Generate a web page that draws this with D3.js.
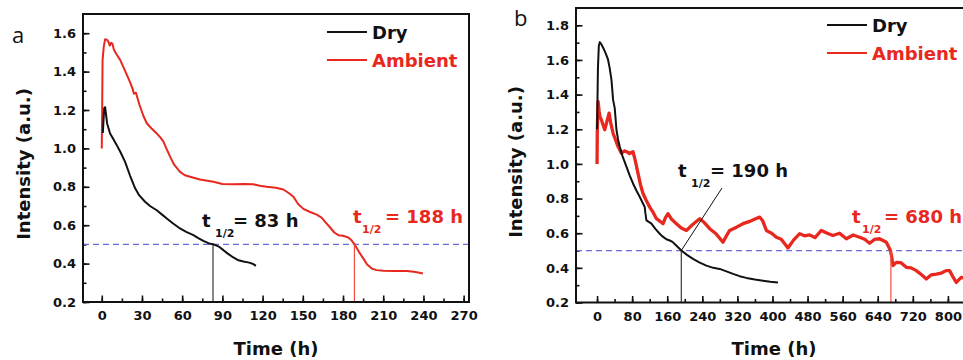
<!DOCTYPE html>
<html>
<head>
<meta charset="utf-8">
<script src="https://cdn.jsdelivr.net/npm/d3@7"></script>
<style>
  body { margin: 0; background: #fff; }
  svg text { font-family: "DejaVu Sans", sans-serif; font-weight: bold; fill: #111; }
</style>
</head>
<body>
<div id="chart"></div>
<script>
// ---- data (time h, normalised intensity) ----
let dryA = [
  [0.8, 1.08], [1.8, 1.21], [2.5, 1.215], [4, 1.13], [6.2, 1.078], [8.5, 1.05],
  [11.2, 1.017], [14, 0.98], [17.4, 0.93], [21, 0.86], [24.9, 0.792], [28, 0.755],
  [32.3, 0.722], [36, 0.70], [41, 0.678], [45, 0.655], [48.5, 0.635], [53, 0.61],
  [58.4, 0.583], [63, 0.565], [68.4, 0.548], [72, 0.533], [75.8, 0.518], [80, 0.505],
  [83.8, 0.499], [87, 0.49], [90.8, 0.47], [94, 0.452], [98.2, 0.432], [102, 0.417],
  [105.7, 0.411], [110, 0.405], [113, 0.398], [115, 0.388]
]

let ambientA = [
  [0, 1.0], [0.3, 1.2], [0.6, 1.46], [1.5, 1.53], [2.5, 1.569], [4, 1.565], [5, 1.555],
  [6, 1.535], [7, 1.55], [8, 1.545], [9, 1.515], [11, 1.49], [13.7, 1.461], [17, 1.41],
  [21.1, 1.345], [23, 1.31], [24, 1.285], [25.5, 1.29], [28, 1.23], [31, 1.17],
  [33.6, 1.131], [37, 1.105], [41, 1.078], [44, 1.055], [46, 1.035], [48.5, 0.995],
  [51, 0.957], [54, 0.915], [58.4, 0.878], [62, 0.86], [65.9, 0.852], [73.3, 0.838],
  [83.3, 0.826], [90, 0.815], [98.2, 0.813], [106, 0.815], [113, 0.813], [118, 0.806],
  [123, 0.80], [130, 0.795], [135.5, 0.786], [140, 0.765], [143, 0.748], [146.5, 0.71],
  [150.4, 0.685], [155, 0.67], [160.4, 0.655], [164, 0.64], [167, 0.615], [170.4, 0.588],
  [173.5, 0.562], [176.6, 0.548], [180, 0.545], [184, 0.536], [186.5, 0.52], [189, 0.496],
  [192, 0.46], [195.2, 0.426], [198, 0.395], [201.5, 0.374], [205, 0.366], [210, 0.363],
  [218, 0.362], [227.6, 0.362], [233, 0.357], [237, 0.352], [239.6, 0.348]
]

let dryB = [
  [0, 1.2], [2, 1.55], [4, 1.68], [6.2, 1.703], [10, 1.69], [13, 1.675], [17.5, 1.651],
  [21, 1.63], [25, 1.603], [29, 1.55], [32.8, 1.487], [35, 1.42], [36.5, 1.371],
  [40.3, 1.322], [42, 1.27], [44.2, 1.197], [48, 1.14], [51.7, 1.10], [58, 1.045],
  [67, 0.984], [75, 0.93], [82, 0.887], [90, 0.845], [97.3, 0.81], [103, 0.78],
  [108.7, 0.751], [110, 0.72], [112.6, 0.674], [118, 0.665], [124, 0.655], [133, 0.625],
  [142.9, 0.597], [150, 0.58], [158, 0.565], [165.7, 0.558], [172, 0.55], [180, 0.53],
  [192.3, 0.50], [205, 0.475], [218.8, 0.452], [233, 0.432], [249.3, 0.413], [265, 0.40],
  [279.6, 0.394], [295, 0.38], [310, 0.365], [325, 0.352], [340.5, 0.342], [360, 0.333],
  [378.4, 0.326], [395, 0.32], [412.5, 0.316]
]

let ambientB = [
  [0, 1.0], [0.5, 1.18], [2.3, 1.361], [5, 1.30], [7, 1.27], [10, 1.254], [13, 1.23],
  [17.5, 1.197], [22, 1.24], [27.4, 1.293], [31, 1.24], [36.5, 1.177], [42, 1.14],
  [47.9, 1.10], [55.5, 1.061], [62, 1.075], [67, 1.071], [74, 1.06], [82, 1.071],
  [87, 1.02], [93.4, 0.945], [99, 0.88], [104.8, 0.829], [112, 0.79], [120, 0.751],
  [128, 0.72], [135.4, 0.684], [143, 0.67], [150.5, 0.655], [156, 0.69], [161.8, 0.713],
  [170, 0.68], [180.9, 0.655], [192, 0.63], [203.7, 0.616], [218, 0.65], [234, 0.684],
  [245, 0.66], [256.8, 0.626], [270, 0.60], [280, 0.57], [287.1, 0.548], [295, 0.585],
  [302.4, 0.616], [318, 0.635], [332.7, 0.655], [350, 0.67], [370.8, 0.693], [378, 0.67],
  [386, 0.616], [398, 0.60], [408.8, 0.577], [420, 0.565], [435.3, 0.515], [448, 0.56],
  [462, 0.597], [473, 0.585], [484.7, 0.59], [497, 0.575], [511.4, 0.616], [525, 0.60],
  [537.8, 0.587], [553, 0.60], [568.4, 0.568], [584, 0.59], [598.7, 0.577], [610, 0.565],
  [621.5, 0.542], [633, 0.565], [644.3, 0.568], [652, 0.558], [659.5, 0.548], [665, 0.52],
  [669, 0.50], [672, 0.46], [674.6, 0.413], [682.2, 0.432], [693, 0.43], [705, 0.403],
  [716, 0.40], [727.9, 0.384], [740, 0.36], [750.7, 0.336], [762, 0.36], [773.5, 0.364],
  [785, 0.37], [796, 0.384], [803.8, 0.384], [811, 0.35], [819, 0.316], [830.5, 0.345],
  [840, 0.34]
]

// ticks
let xTicksA = [0, 30, 60, 90, 120, 150, 180, 210, 240, 270]
let yTicksA = [0.2, 0.4, 0.6, 0.8, 1.0, 1.2, 1.4, 1.6]
let xTicksB = [0, 80, 160, 240, 320, 400, 480, 560, 640, 720, 800]
let yTicksB = [0.2, 0.4, 0.6, 0.8, 1.0, 1.2, 1.4, 1.6, 1.8]

// half-life labels and where the drop line sits
let halfA = [83, 188]
let crossA = [83, 188.5]
let halfB = [190, 680]
let crossB = [192, 670]

let seriesNames = ["Dry", "Ambient"]

let red = "#e8281e"
let black = "#111"

let svg = d3.select("#chart")
  .append("svg")
  .attr("width", 963)
  .attr("height", 360)

function drawPanel(p) {
  let x = d3.scaleLinear().domain(p.xDomain).range([p.left, p.right])
  let y = d3.scaleLinear().domain(p.yDomain).range([p.bottom, p.top])
  let g = svg.append("g")

  g.append("clipPath").attr("id", "clip" + p.id)
    .append("rect")
    .attr("x", p.left).attr("y", p.top)
    .attr("width", p.right - p.left).attr("height", p.bottom - p.top)

  // minor + major ticks (inward)
  let xMinor = d3.range(0, p.xDomain[1], p.xMinorStep)
  let yMinor = d3.range(0.2, p.yDomain[1], 0.1)

  g.append("g").attr("transform", `translate(0,${p.bottom})`)
    .call(d3.axisBottom(x).tickValues(xMinor).tickSize(-3.5).tickFormat(""))
  g.append("g").attr("transform", `translate(0,${p.bottom})`)
    .call(d3.axisBottom(x).tickValues(p.xTicks).tickSize(-6.5).tickPadding(9).tickFormat(d3.format("d")))
  g.append("g").attr("transform", `translate(${p.left},0)`)
    .call(d3.axisLeft(y).tickValues(yMinor).tickSize(-3.5).tickFormat(""))
  g.append("g").attr("transform", `translate(${p.left},0)`)
    .call(d3.axisLeft(y).tickValues(p.yTicks).tickSize(-6.5).tickPadding(7).tickFormat(d3.format(".1f")))

  g.selectAll(".domain").remove()
  g.selectAll(".tick line").attr("stroke", black).attr("stroke-width", 1.6)
  g.selectAll(".tick text").attr("font-size", 13).attr("fill", black)
    .style("font-family", '"DejaVu Sans", sans-serif').style("font-weight", "bold")

  // half-intensity reference
  g.append("line")
    .attr("x1", p.left).attr("x2", p.right)
    .attr("y1", y(0.5)).attr("y2", y(0.5))
    .attr("stroke", "#6b6bd8").attr("stroke-width", 1.2)
    .attr("stroke-dasharray", "6,4")

  let line = d3.line().x(d => x(d[0])).y(d => y(d[1]))
  let lines = g.append("g").attr("clip-path", `url(#clip${p.id})`)
  lines.append("path").datum(p.ambient)
    .attr("d", line).attr("fill", "none")
    .attr("stroke", red).attr("stroke-width", p.ambientWidth).attr("stroke-linejoin", "round")
  lines.append("path").datum(p.dry)
    .attr("d", line).attr("fill", "none")
    .attr("stroke", black).attr("stroke-width", 2).attr("stroke-linejoin", "round")

  // drop lines at t1/2
  g.append("line")
    .attr("x1", x(p.cross[0])).attr("x2", x(p.cross[0]))
    .attr("y1", y(0.5)).attr("y2", p.bottom)
    .attr("stroke", black).attr("stroke-width", 1)
  g.append("line")
    .attr("x1", x(p.cross[1])).attr("x2", x(p.cross[1]))
    .attr("y1", y(0.5)).attr("y2", p.bottom)
    .attr("stroke", "#f0503f").attr("stroke-width", 1.2)
  if (p.leader) {
    g.append("line")
      .attr("x1", x(p.cross[0])).attr("y1", y(0.5))
      .attr("x2", p.leader[0]).attr("y2", p.leader[1])
      .attr("stroke", black).attr("stroke-width", 1)
  }

  // frame
  g.append("rect")
    .attr("x", p.left).attr("y", p.top)
    .attr("width", p.right - p.left).attr("height", p.bottom - p.top)
    .attr("fill", "none").attr("stroke", black).attr("stroke-width", 2)

  // t1/2 labels
  p.labels.forEach((l, i) => {
    let c = i == 0 ? black : red
    g.append("text").attr("x", l[0]).attr("y", l[1]).attr("font-size", 18)
      .style("fill", c).text("t")
    g.append("text").attr("x", l[0] + l[2]).attr("y", l[1] + 10).attr("font-size", 11)
      .style("fill", c).text("1/2")
    g.append("text").attr("x", l[0] + l[3]).attr("y", l[1]).attr("font-size", 18)
      .style("fill", c).text(`= ${p.half[i]} h`)
  })

  // legend
  seriesNames.forEach((n, i) => {
    let c = i == 0 ? black : red
    let ly = p.legend[1] + i * p.legend[2]
    g.append("line")
      .attr("x1", p.legend[0]).attr("x2", p.legend[0] + 40)
      .attr("y1", ly).attr("y2", ly)
      .attr("stroke", c).attr("stroke-width", i == 0 ? 2.2 : 1.8)
    g.append("text").attr("x", p.legend[0] + 45).attr("y", ly + 6.5)
      .attr("font-size", 18).style("fill", c).text(n)
  })

  // axis titles
  g.append("text")
    .attr("transform", `translate(${p.yTitle[0]},${p.yTitle[1]}) rotate(-90)`)
    .attr("text-anchor", "middle").attr("font-size", 18)
    .text("Intensity (a.u.)")
  g.append("text")
    .attr("x", p.xTitle[0]).attr("y", p.xTitle[1])
    .attr("text-anchor", "middle").attr("font-size", 18)
    .text("Time (h)")

  g.append("text")
    .attr("x", p.letter[0]).attr("y", p.letter[1])
    .attr("font-size", 22)
    .style("font-family", '"Open Sans", sans-serif').style("font-weight", "normal")
    .text(p.id)
}

drawPanel({
  id: "a",
  left: 83, right: 469, top: 14, bottom: 302,
  xDomain: [-14, 274], yDomain: [0.2, 1.7], xMinorStep: 15,
  xTicks: xTicksA, yTicks: yTicksA,
  dry: dryA, ambient: ambientA, ambientWidth: 2,
  half: halfA, cross: crossA,
  labels: [[202, 227, 13, 31], [353, 223, 9, 32]],
  legend: [327, 32, 28],
  yTitle: [30, 164], xTitle: [276, 355], letter: [12, 43]
})

drawPanel({
  id: "b",
  left: 576, right: 983, top: 8, bottom: 302.5,
  xDomain: [-48, 880], yDomain: [0.2, 1.9], xMinorStep: 40,
  xTicks: xTicksB, yTicks: yTicksB,
  dry: dryB, ambient: ambientB, ambientWidth: 3.3,
  half: halfB, cross: crossB,
  labels: [[678, 177, 13, 32], [852, 223, 10, 32]],
  legend: [827, 25, 28],
  leader: [722, 188],
  yTitle: [522, 162], xTitle: [774, 355], letter: [514, 26]
})
</script>
</body>
</html>
